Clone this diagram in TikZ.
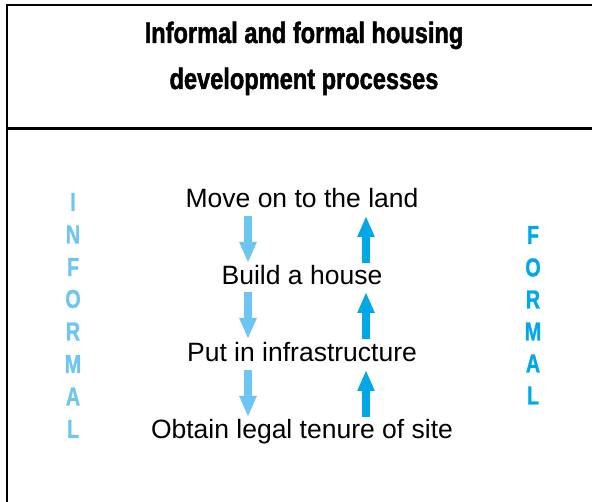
\documentclass[tikz,border=0pt]{standalone}
\usepackage{fontspec}
\setmainfont{Liberation Sans}
\newfontfamily\titlefont[FakeStretch=0.8,FakeBold=1.5]{Liberation Sans Bold}
\newfontfamily\letterfont[FakeStretch=0.76,FakeBold=1]{Liberation Sans Bold}
\usetikzlibrary{arrows.meta}
\definecolor{infblue}{HTML}{6CC6F1}
\definecolor{forblue}{HTML}{00A8EA}
\tikzset{
  frame/.style={line width=2.2pt,black},
  titletext/.style={font=\titlefont\fontsize{29.5}{32}\selectfont,inner sep=0pt,anchor=base},
  steptext/.style={font=\fontsize{26.5}{30}\selectfont,inner sep=0pt,anchor=base},
  infletter/.style={font=\letterfont\fontsize{26}{28}\selectfont,text=infblue,inner sep=0pt},
  forletter/.style={font=\letterfont\fontsize{26}{28}\selectfont,text=forblue,inner sep=0pt},
  downarrow/.style={draw=infblue,line width=8pt,-{Triangle[width=16pt,length=21pt]}},
  uparrow/.style={draw=forblue,line width=8pt,-{Triangle[width=16pt,length=21pt]}}
}
\begin{document}
\begin{tikzpicture}[x=1pt,y=-1pt]
\useasboundingbox (0,0) rectangle (592,502);
% frame
\coordinate (tl) at (7,5);
\coordinate (tr) at (592,5);
\coordinate (bl) at (7,502);
\coordinate (ml) at (7,128.5);
\coordinate (mr) at (592,128.5);
\draw[frame] (tr) -- (tl) -- (bl);
\draw[frame] (ml) -- (mr);
% title
\node[titletext] (t1) at (304,43) {Informal and formal housing};
\node[titletext] (t2) at (304,89) {development processes};
% steps
\node[steptext] (s1) at (302,208) {Move on to the land};
\node[steptext] (s2) at (302,285) {Build a house};
\node[steptext] (s3) at (302,362) {Put in infrastructure};
\node[steptext] (s4) at (302,439) {Obtain legal tenure of site};
% arrows
\coordinate (d1a) at (248,216); \coordinate (d1b) at (248,263);
\coordinate (d2a) at (248,292); \coordinate (d2b) at (248,339);
\coordinate (d3a) at (248,370); \coordinate (d3b) at (248,417);
\coordinate (u1a) at (366,263); \coordinate (u1b) at (366,216);
\coordinate (u2a) at (366,339); \coordinate (u2b) at (366,292);
\coordinate (u3a) at (366,417); \coordinate (u3b) at (366,370);
\draw[downarrow] (d1a) -- (d1b);
\draw[downarrow] (d2a) -- (d2b);
\draw[downarrow] (d3a) -- (d3b);
\draw[uparrow] (u1a) -- (u1b);
\draw[uparrow] (u2a) -- (u2b);
\draw[uparrow] (u3a) -- (u3b);
% INFORMAL
\node[infletter] (i1) at (73,202) {I};
\node[infletter] (i2) at (73,234.5) {N};
\node[infletter] (i3) at (73,267) {F};
\node[infletter] (i4) at (73,299) {O};
\node[infletter] (i5) at (73,331.5) {R};
\node[infletter] (i6) at (73,364) {M};
\node[infletter] (i7) at (73,396.5) {A};
\node[infletter] (i8) at (73,429) {L};
% FORMAL
\node[forletter] (f1) at (533,235) {F};
\node[forletter] (f2) at (533,267.5) {O};
\node[forletter] (f3) at (533,299.5) {R};
\node[forletter] (f4) at (533,331.5) {M};
\node[forletter] (f5) at (533,363.5) {A};
\node[forletter] (f6) at (533,395.5) {L};
\end{tikzpicture}
\end{document}
